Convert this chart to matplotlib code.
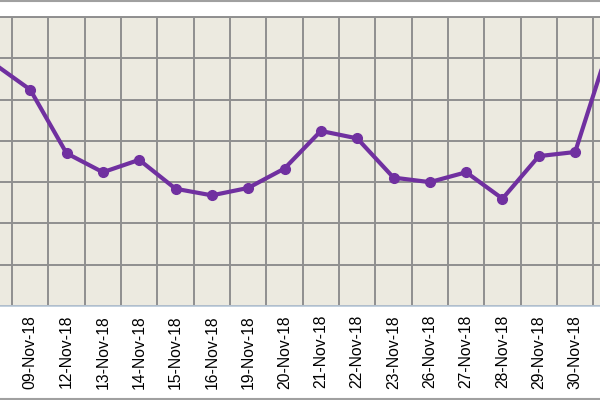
import matplotlib
matplotlib.use('Agg')
import matplotlib.pyplot as plt
from matplotlib.lines import Line2D
import numpy as np

# dates on the category axis (the first and last ones are cut by the crop)
dates = ['08-Nov-18', '09-Nov-18', '12-Nov-18', '13-Nov-18', '14-Nov-18',
         '15-Nov-18', '16-Nov-18', '19-Nov-18', '20-Nov-18', '21-Nov-18',
         '22-Nov-18', '23-Nov-18', '26-Nov-18', '27-Nov-18', '28-Nov-18',
         '29-Nov-18', '30-Nov-18', '03-Dec-18']
values = [5.87, 5.24, 3.70, 3.24, 3.54, 2.84, 2.68, 2.86, 3.33, 4.24,
          4.06, 3.11, 3.00, 3.24, 2.60, 3.63, 3.73, 6.48]

plt.rcParams['font.family'] = ['Liberation Sans', 'DejaVu Sans']

fig = plt.figure(figsize=(6, 4), dpi=100)
fig.patch.set_facecolor('white')
ax = fig.add_axes([0, (400 - 306) / 400, 1, (306 - 17) / 400])
ax.set_facecolor('#ECEAE0')

x = np.arange(len(dates))
ax.plot(x, values, color='#7030A0', lw=3, marker='o', ms=7,
        solid_joinstyle='round', zorder=3)

# category axis: labels at the centres, grid lines on the boundaries
ax.set_xticks(x)
ax.set_xticklabels(dates, rotation=90, fontsize=11.3)
ax.set_xticks(x[:-1] + 0.5, minor=True)
ax.set_xlim(1 - 30.2 / 36.33, 1 + 569.8 / 36.33)
ax.set_ylim(0, 7)
ax.set_yticks(range(0, 8))
ax.tick_params(axis='both', which='both', length=0)
ax.tick_params(axis='x', pad=6.5)
ax.tick_params(axis='y', labelleft=False)
ax.grid(True, which='minor', axis='x', color='#8F8F8F', lw=1.4)
ax.grid(True, which='major', axis='y', color='#8F8F8F', lw=1.4)
ax.grid(False, which='major', axis='x')
ax.set_axisbelow(True)

for side in ['left', 'right']:
    ax.spines[side].set_visible(False)
ax.spines['top'].set_color('#8F8F8F')
ax.spines['top'].set_linewidth(1.4)
ax.spines['bottom'].set_color('#B8C8D8')
ax.spines['bottom'].set_linewidth(1.2)

# chart border at the top and bottom of the picture
fig.add_artist(Line2D([0, 1], [0.998, 0.998], color='#A0A0A0', lw=1.5))
fig.add_artist(Line2D([0, 1], [0.003, 0.003], color='#A0A0A0', lw=1.5))

fig.savefig('out.png', dpi=100)
